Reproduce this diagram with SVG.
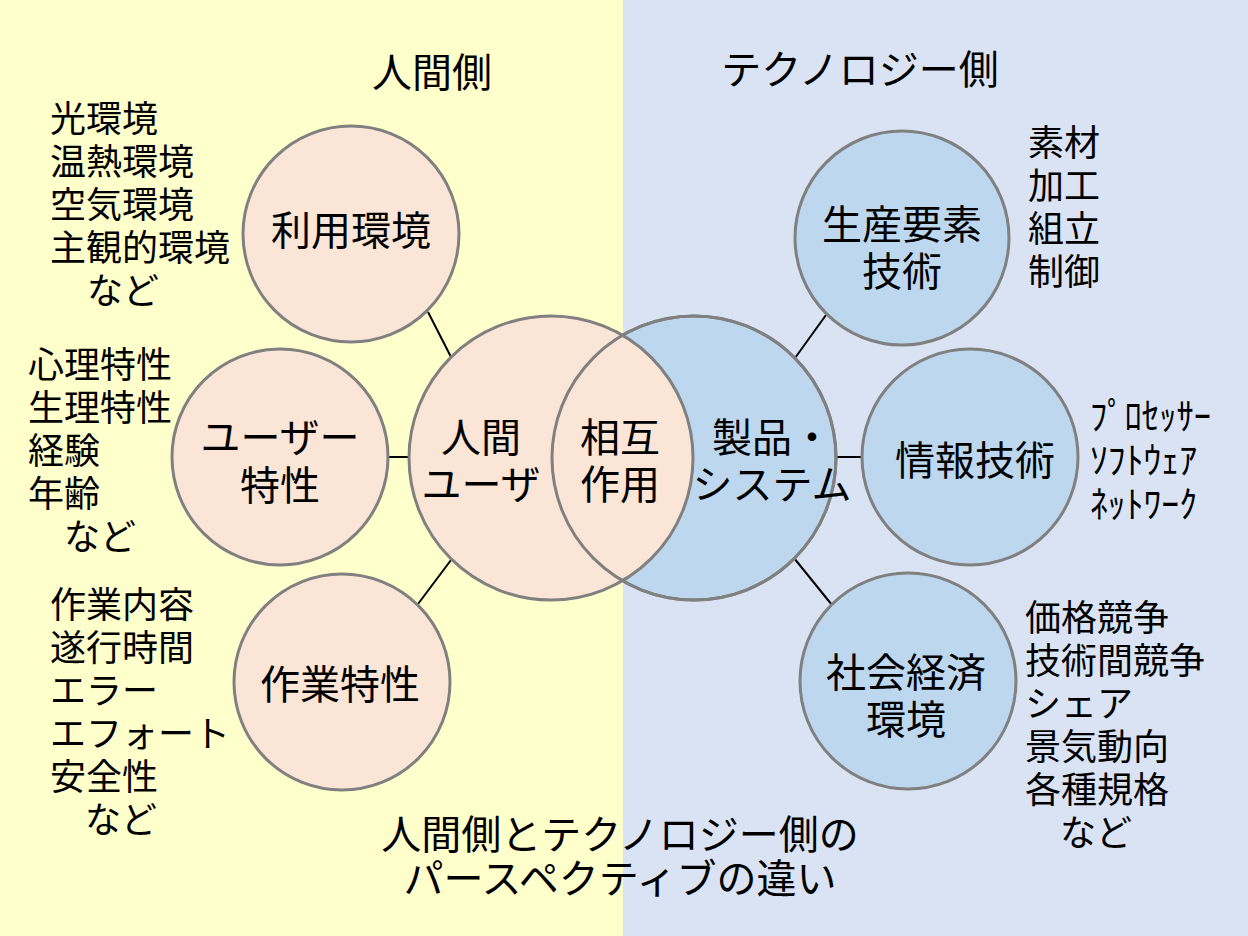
<svg xmlns="http://www.w3.org/2000/svg" width="1248" height="936" viewBox="0 0 1248 936">
<style>
text{font-family:"Noto Sans CJK JP","Noto Sans",sans-serif;fill:#000}
.big{font-size:40px}
.lst{font-size:36px}
.han{font-size:37px}
.c{text-anchor:middle}
.pc{fill:#FBE5D6;stroke:#808080;stroke-width:3}
.bc{fill:#BDD7EE;stroke:#808080;stroke-width:3}
.ln{stroke:#000;stroke-width:2;fill:none}
</style>
<rect x="0" y="0" width="623" height="936" fill="#FFFFCC"/>
<rect x="623" y="0" width="625" height="936" fill="#DAE3F3"/>

<text class="big c" x="432" y="87">人間側</text>
<text class="big c" x="860" y="84">テクノロジー側</text>

<g id="connectors">
<line class="ln" x1="428" y1="312" x2="451" y2="357"/>
<line class="ln" x1="388" y1="457" x2="410" y2="457"/>
<line class="ln" x1="418" y1="604" x2="451" y2="560"/>
<line class="ln" x1="795" y1="358" x2="826" y2="315"/>
<line class="ln" x1="835" y1="457" x2="862" y2="457"/>
<line class="ln" x1="794" y1="558" x2="832" y2="605"/>
</g>

<g id="product">
<circle class="bc" cx="694" cy="458" r="142"/>
</g>
<g id="human">
<circle class="pc" cx="551" cy="458" r="142"/>
<circle cx="694" cy="458" r="142" fill="none" stroke="#808080" stroke-width="3"/>
<text class="big c" x="481" y="452">人間</text>
<text class="big c" x="481" y="499">ユーザ</text>
</g>
<g id="interaction">
<text class="big c" x="620" y="452">相互</text>
<text class="big c" x="620" y="499">作用</text>
</g>
<g id="product-label">
<text class="big c" x="772" y="452">製品・</text>
<text class="big c" x="772" y="499">システム</text>
</g>

<g id="riyou">
<circle class="pc" cx="351" cy="234" r="108"/>
<text class="big c" x="351" y="245">利用環境</text>
<text class="lst" x="50" y="132">光環境</text>
<text class="lst" x="50" y="175">温熱環境</text>
<text class="lst" x="50" y="218">空気環境</text>
<text class="lst" x="50" y="261">主観的環境</text>
<text class="lst" x="87" y="304">など</text>
</g>

<g id="user">
<circle class="pc" cx="280" cy="457" r="108"/>
<text class="big c" x="280" y="452">ユーザー</text>
<text class="big c" x="280" y="500">特性</text>
<text class="lst" x="28" y="378">心理特性</text>
<text class="lst" x="28" y="421">生理特性</text>
<text class="lst" x="28" y="464">経験</text>
<text class="lst" x="28" y="507">年齢</text>
<text class="lst" x="64" y="550">など</text>
</g>

<g id="sagyou">
<circle class="pc" cx="342" cy="682" r="108"/>
<text class="big c" x="340" y="699">作業特性</text>
<text class="lst" x="50" y="618">作業内容</text>
<text class="lst" x="50" y="661">遂行時間</text>
<text class="lst" x="50" y="704">エラー</text>
<text class="lst" x="50" y="747">エフォート</text>
<text class="lst" x="50" y="790">安全性</text>
<text class="lst" x="85" y="833">など</text>
</g>

<g id="seisan">
<circle class="bc" cx="902" cy="238" r="107"/>
<text class="big c" x="902" y="239">生産要素</text>
<text class="big c" x="902" y="286">技術</text>
<text class="lst" x="1028" y="156">素材</text>
<text class="lst" x="1028" y="199">加工</text>
<text class="lst" x="1028" y="242">組立</text>
<text class="lst" x="1028" y="285">制御</text>
</g>

<g id="jouhou">
<circle class="bc" cx="970" cy="457" r="108"/>
<text class="big c" x="975" y="475">情報技術</text>
<text class="han" x="1090" y="430" textLength="121" lengthAdjust="spacingAndGlyphs">ﾌﾟﾛｾｯｻｰ</text>
<text class="han" x="1090" y="474" textLength="107" lengthAdjust="spacingAndGlyphs">ｿﾌﾄｳｪｱ</text>
<text class="han" x="1090" y="518" textLength="107" lengthAdjust="spacingAndGlyphs">ﾈｯﾄﾜｰｸ</text>
</g>

<g id="shakai">
<circle class="bc" cx="908" cy="681" r="108"/>
<text class="big c" x="906" y="687">社会経済</text>
<text class="big c" x="906" y="734">環境</text>
<text class="lst" x="1025" y="631">価格競争</text>
<text class="lst" x="1025" y="674">技術間競争</text>
<text class="lst" x="1025" y="717">シェア</text>
<text class="lst" x="1025" y="760">景気動向</text>
<text class="lst" x="1025" y="803">各種規格</text>
<text class="lst" x="1060" y="846">など</text>
</g>

<text class="big c" x="620" y="849">人間側とテクノロジー側の</text>
<text class="big c" x="620" y="893">パースペクティブの違い</text>
</svg>
